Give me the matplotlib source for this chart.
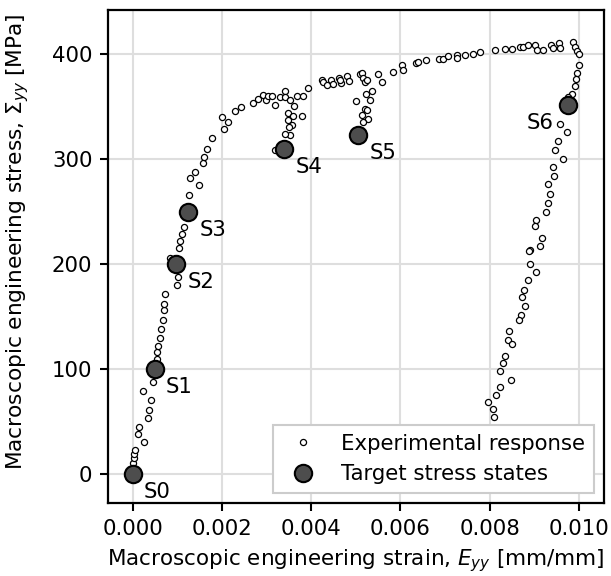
import matplotlib
matplotlib.use("Agg")
import matplotlib.pyplot as plt

exp_strain = [
    0.000000, 0.000022, 0.000037, 0.000044, 0.000253, 0.000111, 0.000134,
    0.000350, 0.000373, 0.000417, 0.000238, 0.000447, 0.000468, 0.000537,
    0.000552, 0.000574, 0.000604, 0.000627, 0.000672, 0.000694, 0.000701,
    0.000731, 0.000985, 0.001008, 0.000836, 0.001044, 0.001067, 0.001097,
    0.001149, 0.001261, 0.001492, 0.001291, 0.001396, 0.001582, 0.001598,
    0.001672, 0.001777, 0.002038, 0.002128, 0.002008, 0.002292, 0.002419,
    0.002688, 0.002800, 0.002920, 0.002979, 0.003039, 0.003121, 0.003196,
    0.003300, 0.003413, 0.003413, 0.003525, 0.003607, 0.003681, 0.003823,
    0.003935, 0.003800, 0.003480, 0.003584, 0.003472, 0.003577, 0.003495,
    0.003532, 0.003420, 0.003188, 0.004234, 0.004257, 0.004346, 0.004443,
    0.004495, 0.004629, 0.004667, 0.004802, 0.004853, 0.005010, 0.005086,
    0.004645, 0.005130, 0.005168, 0.005205, 0.005242, 0.005227, 0.005362,
    0.005317, 0.005205, 0.005257, 0.005280, 0.005130, 0.005168, 0.005504,
    0.005593, 0.005840, 0.006027, 0.006049, 0.006340, 0.006385, 0.006564,
    0.006871, 0.006960, 0.007072, 0.007259, 0.007259, 0.007446, 0.007617,
    0.007782, 0.008118, 0.008342, 0.008506, 0.008678, 0.008738, 0.008850,
    0.009014, 0.009052, 0.009201, 0.009365, 0.009425, 0.009552, 0.009574,
    0.009873, 0.009910, 0.009948, 0.010007, 0.009993, 0.009948, 0.009933,
    0.009903, 0.009836, 0.009761, 0.009574, 0.009724, 0.009537, 0.009462,
    0.009634, 0.009425, 0.009440, 0.009313, 0.009350, 0.009313, 0.009253,
    0.009037, 0.009022, 0.009178, 0.009126, 0.008902, 0.008887, 0.008902,
    0.009037, 0.008850, 0.008768, 0.008723, 0.008790, 0.008693, 0.008663,
    0.008439, 0.008402, 0.008506, 0.008342, 0.008297, 0.008230, 0.008469,
    0.008230, 0.008148, 0.007954, 0.008080, 0.008095,
]
exp_stress = [
    11.1, 15.6, 19.7, 23.5, 31.1, 38.4, 45.1,
    53.3, 61.6, 70.5, 79.7, 88.3, 104.0, 109.8,
    116.5, 122.5, 130.2, 138.4, 147.3, 156.2, 161.9,
    171.7, 180.6, 187.9, 206.4, 215.9, 221.9, 228.6,
    235.9, 265.7, 275.6, 281.9, 288.3, 296.5, 302.2,
    309.5, 320.0, 329.2, 335.6, 340.6, 345.7, 350.2,
    354.0, 357.8, 361.3, 356.8, 360.0, 360.6, 352.1,
    359.4, 365.1, 359.4, 356.2, 351.1, 360.3, 360.0,
    368.3, 341.6, 344.1, 341.6, 337.1, 332.4, 330.8,
    323.2, 323.8, 308.6, 375.9, 373.7, 370.5, 375.2,
    371.4, 377.1, 373.0, 379.4, 375.0, 355.2, 381.6,
    375.2, 382.2, 377.8, 373.7, 375.2, 362.6, 365.1,
    356.2, 348.3, 346.7, 338.7, 341.9, 335.6, 381.6,
    373.7, 383.2, 389.5, 384.8, 392.0, 392.7, 394.3,
    395.2, 395.9, 398.1, 399.0, 396.8, 399.0, 400.6,
    402.2, 403.8, 405.4, 405.4, 407.0, 407.0, 408.6,
    409.2, 403.8, 404.4, 408.9, 405.7, 410.8, 405.7,
    411.7, 407.0, 403.2, 400.0, 389.5, 382.2, 376.5,
    369.5, 361.9, 359.4, 334.0, 325.7, 317.5, 309.2,
    300.3, 292.7, 284.1, 276.8, 267.3, 258.4, 249.8,
    241.9, 236.8, 225.4, 217.1, 214.0, 212.7, 200.6,
    193.0, 184.8, 175.9, 168.9, 160.0, 152.1, 147.3,
    136.2, 128.3, 123.8, 113.0, 106.0, 98.1, 90.2,
    82.9, 75.6, 68.6, 62.2, 54.3,
]

# target stress states
target_names = ["S0", "S1", "S2", "S3", "S4", "S5", "S6"]
target_strain = [0.0, 0.00049, 0.00098, 0.00125, 0.0034, 0.00505, 0.00975]
target_stress = [0.0, 100.0, 200.0, 250.0, 310.0, 323.0, 352.0]

plt.rcParams["font.family"] = "DejaVu Sans"
plt.rcParams["font.size"] = 15.3

fig, ax = plt.subplots(figsize=(6.11, 5.76), dpi=100)
fig.subplots_adjust(left=0.1763, right=0.989, top=0.9826, bottom=0.1262)

ax.plot(exp_strain, exp_stress, "o", ls="none", ms=4.4, mfc="white",
        mec="black", mew=0.9, label="Experimental response", zorder=3)
ax.plot(target_strain, target_stress, "o", ls="none", ms=12.5, mfc="#4d4d4d",
        mec="black", mew=1.5, label="Target stress states", zorder=4)

for name, x, y in zip(target_names, target_strain, target_stress):
    if name == "S6":
        ax.annotate(name, (x, y), xytext=(-10, -13), textcoords="offset points",
                    ha="right", va="center")
    else:
        ax.annotate(name, (x, y), xytext=(8, -13), textcoords="offset points",
                    ha="left", va="center")

ax.set_xlim(-0.00056, 0.010567)
ax.set_ylim(-27.6, 442.2)
ax.set_xticks([0.0, 0.002, 0.004, 0.006, 0.008, 0.010])
ax.set_yticks([0, 100, 200, 300, 400])
ax.grid(True, color="#dedede", lw=1.5)
ax.set_axisbelow(True)
for sp in ax.spines.values():
    sp.set_linewidth(1.6)
    sp.set_color("black")
ax.tick_params(width=1.5, length=6, pad=5)

ax.set_xlabel(r"Macroscopic engineering strain, $E_{yy}$ [mm/mm]",
              fontsize=15.5, labelpad=6)
ax.set_ylabel(r"Macroscopic engineering stress, $\Sigma_{yy}$ [MPa]",
              fontsize=15.6)
ax.yaxis.set_label_coords(-0.155, 0.53)

leg = ax.legend(loc="lower right", fancybox=False, framealpha=1.0,
                edgecolor="#cccccc", borderaxespad=0.5)
leg.get_frame().set_linewidth(1.5)

fig.savefig("out.png", dpi=100)
